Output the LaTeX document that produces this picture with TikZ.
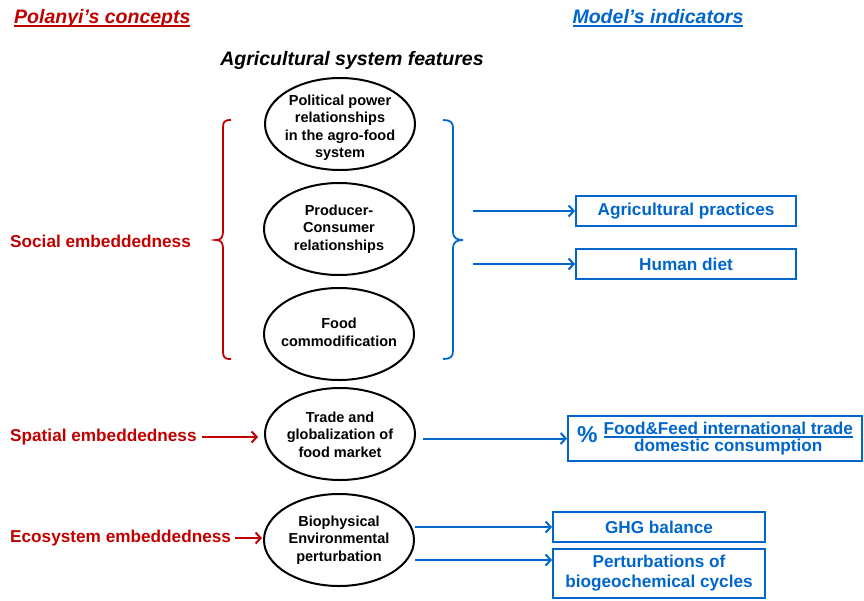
\documentclass[tikz,border=0pt]{standalone}
\usepackage{fontspec}
\setmainfont{Liberation Sans}
\usetikzlibrary{shapes.geometric,arrows.meta}
\definecolor{myred}{HTML}{C00000}
\definecolor{myblue}{HTML}{0066CC}
\newcommand\thickul[1]{\setbox0\hbox{#1}\rlap{\raisebox{-3.5pt}{\rule{\wd0}{1.6pt}}}\box0}
\newcommand\ftext[2][0pt]{\smash{\makebox[0pt]{\raisebox{\dimexpr-3.6pt-#1\relax}{\begin{tabular}{@{}c@{}}#2\end{tabular}}}}}
\begin{document}
\begin{tikzpicture}[x=1pt,y=-1pt,
  feat/.style={ellipse, draw=black, line width=2pt, minimum width=150pt, minimum height=92pt, inner sep=0pt, font=\fontsize{14.5}{17.5}\selectfont\bfseries},
  ind/.style={draw=myblue, line width=2pt, text=myblue, inner sep=0pt, align=center, font=\fontsize{17.2}{20}\selectfont\bfseries},
  concept/.style={anchor=west, text=myred, inner sep=0pt, font=\fontsize{17.2}{20}\selectfont\bfseries},
  heading/.style={inner sep=0pt, font=\fontsize{19.5}{22}\selectfont\bfseries\itshape},
  barrow/.style={draw=myblue, line width=2pt, -{Straight Barb[length=5pt,width=11pt]}},
  rarrow/.style={draw=myred, line width=2pt, -{Straight Barb[length=5pt,width=11pt]}},
  bracepath/.style={line width=1.8pt}
]
\useasboundingbox (0,0) rectangle (864,600);

% headings
\node[heading, anchor=west, text=myred] (h1) at (14,18) {\thickul{Polanyi’s concepts}};
\node[heading, text=myblue] (h2) at (658,18) {\thickul{Model’s indicators}};
\node[heading, text=black] (h3) at (352,60) {Agricultural system features};

% feature ellipses
\node[feat] (E1) at (340,124) {\ftext[4pt]{Political power\\relationships\\in the agro-food\\system}};
\node[feat] (E2) at (339,229) {\ftext{Producer-\\Consumer\\relationships}};
\node[feat] (E3) at (339,334) {\ftext{Food\\commodification}};
\node[feat] (E4) at (340,434) {\ftext[2pt]{Trade and\\globalization of\\food market}};
\node[feat] (E5) at (339,540) {\ftext{Biophysical\\Environmental\\perturbation}};

% concepts
\node[concept] (C1) at (10,241) {Social embeddedness};
\node[concept] (C2) at (10,437) {Spatial embeddedness};
\node[concept] (C3) at (10,538) {Ecosystem embeddedness};

% braces
\draw[bracepath, myred] (231,120) .. controls (224,120) and (223,122) .. (223,128) -- (223,232)
  .. controls (223,238) and (220,240) .. (216,240) .. controls (220,240) and (223,242) .. (223,248)
  -- (223,351) .. controls (223,357) and (224,359) .. (231,359);
\draw[bracepath, myblue] (443,120) .. controls (450,120) and (453,122) .. (453,128) -- (453,232)
  .. controls (453,238) and (457,240) .. (463,240) .. controls (457,240) and (453,242) .. (453,248)
  -- (453,351) .. controls (453,357) and (450,359) .. (443,359);

% indicators
\node[ind, minimum width=220pt, minimum height=30pt] (B1) at (686,211) {Agricultural practices};
\node[ind, minimum width=220pt, minimum height=30pt] (B2) at (686,264) {Human diet};
\node[ind, minimum width=294pt, minimum height=45pt] (B3) at (715,438.5)
  {{\fontsize{23}{24}\selectfont\%}\hspace{6pt}\begin{tabular}{@{}c@{}}\thickul{Food\&Feed international trade}\\[-3pt]domestic consumption\end{tabular}};
\node[ind, minimum width=212pt, minimum height=30pt] (B4) at (659,527) {GHG balance};
\node[ind, minimum width=212pt, minimum height=49pt] (B5) at (659,573.5) {Perturbations of\\biogeochemical cycles};

% arrows
\coordinate (s1) at (473,211);
\coordinate (s2) at (473,264);
\draw[barrow] (s1) -- (B1.west);
\draw[barrow] (s2) -- (B2.west);
\draw[barrow, shorten <=7pt] (E4.east |- B3.west) -- (B3.west);
\draw[barrow] (E5.east |- B4.west) -- (B4.west);
\coordinate (p5) at ([yshift=13.5pt]B5.west);
\draw[barrow] (E5.east |- p5) -- (p5);

\draw[rarrow, shorten <=5pt, shorten >=6pt] (C2.east) -- (C2.east -| E4.west);
\draw[rarrow, shorten <=4pt, shorten >=1pt] (C3.east) -- (C3.east -| E5.west);
\end{tikzpicture}
\end{document}
